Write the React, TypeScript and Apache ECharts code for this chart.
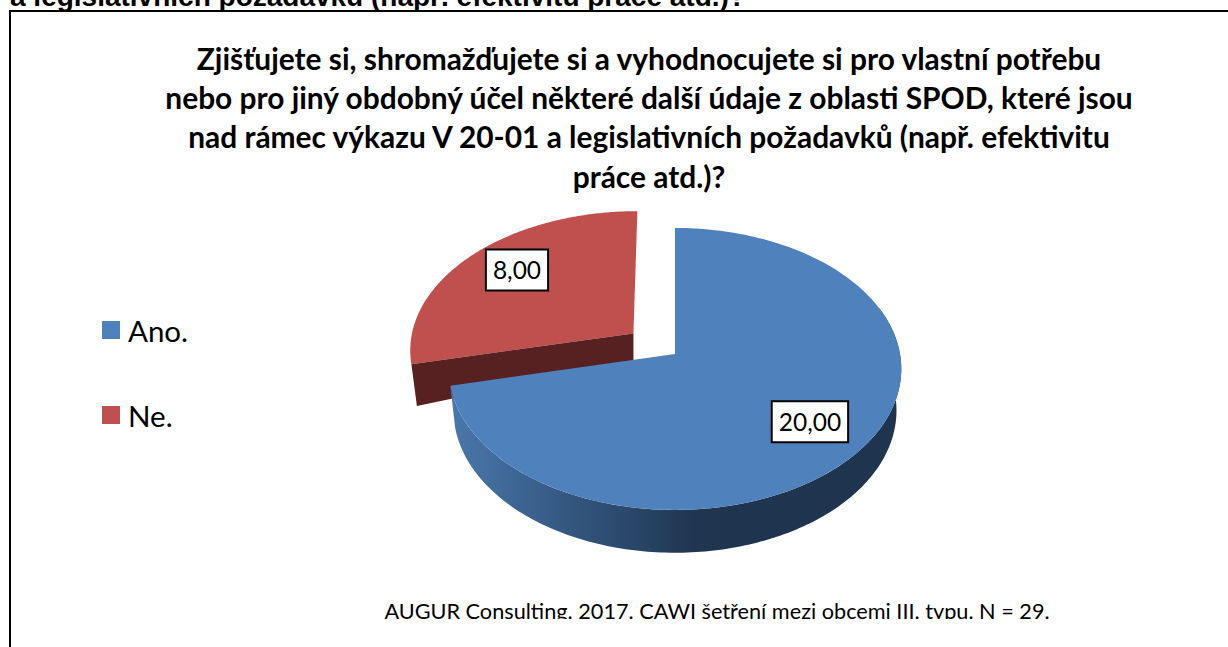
import React, { useEffect, useRef } from "react";
import * as echarts from "echarts";

const categories = ["Ano.", "Ne."];
const values = [20, 8];
const colors = ["#4f81bd", "#c0504d"];
const titleLines = [
  "Zjišťujete si, shromažďujete si a vyhodnocujete si pro vlastní potřebu",
  "nebo pro jiný obdobný účel některé další údaje z oblasti SPOD, které jsou",
  "nad rámec výkazu V 20-01 a legislativních požadavků (např. efektivitu",
  "práce atd.)?",
];
const topFragment = "a legislativních požadavků (např. efektivitu práce atd.)?";
const footer = "AUGUR Consulting. 2017. CAWI šetření mezi obcemi III. typu. N = 29.";

const LABEL_FONT = "Lato, sans-serif";

// Pseudo-perspective projection of the unit-disc pie plane
const CX = 675, CY = 354, RX = 225, RY = 139.4, PERSP = 0.106;
const DEPTH = 42.5, DEPTH_PERSP = 0.0213, APEX_DEPTH = 27, EXPLODE = 0.24;

function project(u: number, v: number, lower: boolean): number[] {
  const w = 1 + PERSP * v + (lower ? DEPTH_PERSP : 0);
  return [CX + (RX * u) / w, CY + (-RY * v + (lower ? DEPTH : 0)) / w];
}

const total = values.reduce((a, b) => a + b, 0);

function renderSlice(index: number, value: number) {
  const before = values.slice(0, index).reduce((a, b) => a + b, 0);
  const start = (before / total) * 2 * Math.PI;
  const end = ((before + value) / total) * 2 * Math.PI;
  const mid = (start + end) / 2;
  const exploded = index === 1;
  const ox = exploded ? EXPLODE * Math.sin(mid) : 0;
  const oy = exploded ? EXPLODE * Math.cos(mid) : 0;
  const at = (t: number, r: number, lower: boolean) =>
    project(ox + r * Math.sin(t), oy + r * Math.cos(t), lower);

  const STEPS = 180;
  const rim = (a: number, b: number, lower: boolean) => {
    const pts: number[][] = [];
    for (let i = 0; i <= STEPS; i++) pts.push(at(a + ((b - a) * i) / STEPS, 1, lower));
    return pts;
  };

  const apex = at(0, 0, false);
  const children: any[] = [];
  if (exploded) {
    children.push({
      type: "polygon",
      shape: { points: [apex, ...rim(start, end, false)] },
      style: { fill: colors[index] },
    });
    const a = at(start, 1, false);
    const b = at(start, 1, true);
    children.push({
      type: "polygon",
      shape: { points: [apex, a, b, [apex[0], apex[1] + APEX_DEPTH]] },
      style: { fill: "#572121" },
    });
  } else {
    const wallStart = (70 * Math.PI) / 180;
    children.push({
      type: "polygon",
      shape: { points: [...rim(wallStart, end, false), ...rim(wallStart, end, true).reverse()] },
      style: {
        fill: {
          type: "linear", x: 1, y: 0, x2: 0, y2: 0,
          colorStops: [
            { offset: 0, color: "#1f344d" },
            { offset: 0.45, color: "#1f3550" },
            { offset: 0.76, color: "#365a84" },
            { offset: 1, color: "#4a78ab" },
          ],
        },
      },
    });
    children.push({
      type: "polygon",
      shape: { points: [apex, ...rim(start, end, false)] },
      style: { fill: colors[index] },
    });
  }
  const lp = at(mid, exploded ? 0.715 : 0.73, false);
  children.push({
    type: "text",
    x: lp[0],
    y: lp[1] - (exploded ? 6 : -1),
    z2: 10,
    style: {
      text: value.toFixed(2).replace(".", ","),
      font: `24.5px ${LABEL_FONT}`,
      fill: "#000",
      align: "center",
      verticalAlign: "middle",
      backgroundColor: "#fff",
      borderColor: "#000",
      borderWidth: 2,
      padding: [7, 6, 7, 6],
    },
  });
  return { type: "group", children };
}

export default function App() {
  const ref = useRef<HTMLDivElement>(null);
  useEffect(() => {
    document.body.style.margin = "0";
    const chart = echarts.init(ref.current!, undefined, { renderer: "svg" });
    const order = [1, 0];
    chart.setOption({
      animation: false,
      backgroundColor: "#fff",
      title: {
        text: titleLines.join("\n"),
        left: 644,
        top: 33,
        textAlign: "center",
        textStyle: { fontFamily: LABEL_FONT, fontWeight: "bold", fontSize: 29.9, lineHeight: 39.3, color: "#000" },
      },
      legend: {
        data: categories,
        orient: "vertical",
        left: 102,
        top: 315,
        icon: "rect",
        itemWidth: 18,
        itemHeight: 18,
        itemGap: 55,
        selectedMode: false,
        padding: 0,
        textStyle: { fontFamily: LABEL_FONT, fontSize: 29.5, color: "#000", padding: [0, 0, 0, 3] },
      },
      series: order.map((i) => ({
        type: "custom",
        name: categories[i],
        coordinateSystem: "none",
        z: i === 0 ? 3 : 2,
        itemStyle: { color: colors[i] },
        data: [{ name: categories[i], value: values[i] }],
        renderItem: (_p: any, api: any) => renderSlice(i, api.value(0)),
      })),
      graphic: [
        {
          type: "text", x: 10, y: 10, z: 5,
          style: { text: topFragment, font: "bold 28px 'Liberation Sans', Arial, sans-serif", fill: "#000", verticalAlign: "bottom" },
        },
        {
          type: "polyline", z: 6,
          shape: { points: [[10, 647], [10, 11], [1228, 11]] },
          style: { stroke: "#000", lineWidth: 2, fill: "none" },
        },
        {
          type: "text", x: 717, y: 622, z: 5,
          style: { text: footer, font: `21.7px ${LABEL_FONT}`, fill: "#000", align: "center", verticalAlign: "bottom" },
        },
        { type: "rect", z: 6, shape: { x: 300, y: 619, width: 850, height: 12 }, style: { fill: "#fff" } },
      ],
    });
    return () => chart.dispose();
  }, []);
  return <div ref={ref} style={{ width: 1228, height: 647 }} />;
}
